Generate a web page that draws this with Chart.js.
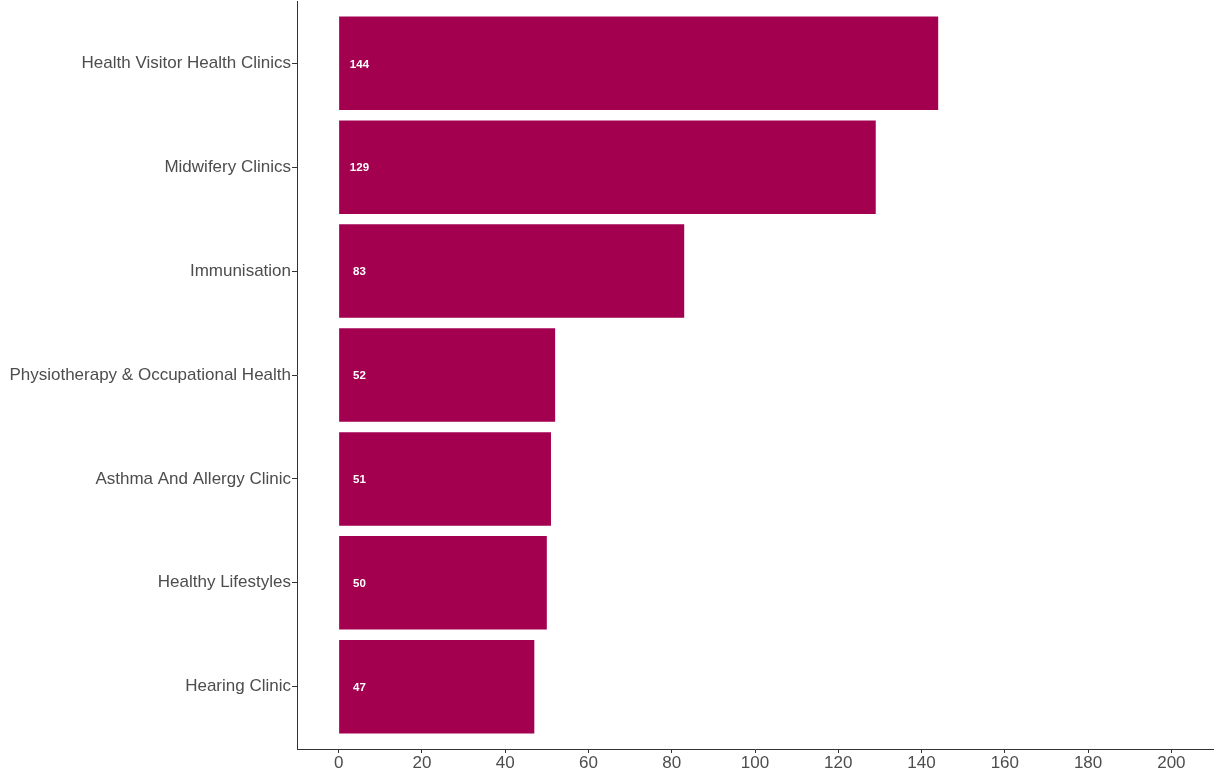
<!DOCTYPE html>
<html>
<head>
<meta charset="utf-8">
<script src="https://cdn.jsdelivr.net/npm/chart.js@4"></script>
<style>
html,body{margin:0;padding:0;background:#fff;}
#wrap{width:1217px;height:771px;}
</style>
</head>
<body>
<div id="wrap"><canvas id="c" width="1217" height="771"></canvas></div>
<script>
const categories = [
  "Health Visitor Health Clinics",
  "Midwifery Clinics",
  "Immunisation",
  "Physiotherapy & Occupational Health",
  "Asthma And Allergy Clinic",
  "Healthy Lifestyles",
  "Hearing Clinic"
];
const values = [144, 129, 83, 52, 51, 50, 47];
const xTicks = [0, 20, 40, 60, 80, 100, 120, 140, 160, 180, 200];

const barColor = '#A3004F';
const textColor = '#4D4D4D';
const axisColor = '#333333';

const labelPlugin = {
  id: 'barLabels',
  afterDatasetsDraw(chart) {
    const ctx = chart.ctx;
    const xs = chart.scales.x, ys = chart.scales.y;
    ctx.save();
    ctx.fillStyle = '#ffffff';
    ctx.font = 'bold 11.5px "Liberation Sans", Arial, sans-serif';
    ctx.textAlign = 'center';
    ctx.textBaseline = 'middle';
    values.forEach((v, i) => {
      ctx.fillText(String(v), xs.getPixelForValue(5), ys.getPixelForValue(i + 1) + 1);
    });
    ctx.restore();
  }
};

new Chart(document.getElementById('c'), {
  type: 'bar',
  data: {
    datasets: [{
      data: values.map((v, i) => ({ x: v, y: i + 1 })),
      backgroundColor: barColor,
      borderWidth: 0,
      barPercentage: 0.9,
      categoryPercentage: 1.0
    }]
  },
  options: {
    indexAxis: 'y',
    responsive: false,
    animation: false,
    devicePixelRatio: 1,
    layout: { padding: { top: 0, right: 4, bottom: 0, left: 0 } },
    plugins: { legend: { display: false }, tooltip: { enabled: false } },
    scales: {
      x: {
        type: 'linear',
        min: -10,
        max: 210,
        afterBuildTicks: s => { s.ticks = xTicks.map(v => ({ value: v })); },
        afterFit: s => { s.height = 22; },
        grid: { drawOnChartArea: false, drawTicks: true, tickLength: 4, color: axisColor },
        border: { display: true, color: axisColor, width: 1 },
        ticks: {
          color: textColor,
          font: { family: '"Liberation Sans", Arial, sans-serif', size: 17 },
          padding: 0,
          maxRotation: 0,
          autoSkip: false
        }
      },
      y: {
        type: 'linear',
        reverse: true,
        offset: false,
        min: 0.4,
        max: 7.6,
        afterBuildTicks: s => { s.ticks = categories.map((c, i) => ({ value: i + 1 })); },
        afterFit: s => { s.width = 297; },
        grid: { offset: false, drawOnChartArea: false, drawTicks: true, tickLength: 5, color: axisColor },
        border: { display: true, color: axisColor, width: 1 },
        ticks: {
          color: textColor,
          font: { family: '"Liberation Sans", Arial, sans-serif', size: 17, lineHeight: 0 },
          padding: 1,
          autoSkip: false,
          callback: (v) => categories[Math.round(v) - 1] || ''
        }
      }
    }
  },
  plugins: [labelPlugin]
});
</script>
</body>
</html>
